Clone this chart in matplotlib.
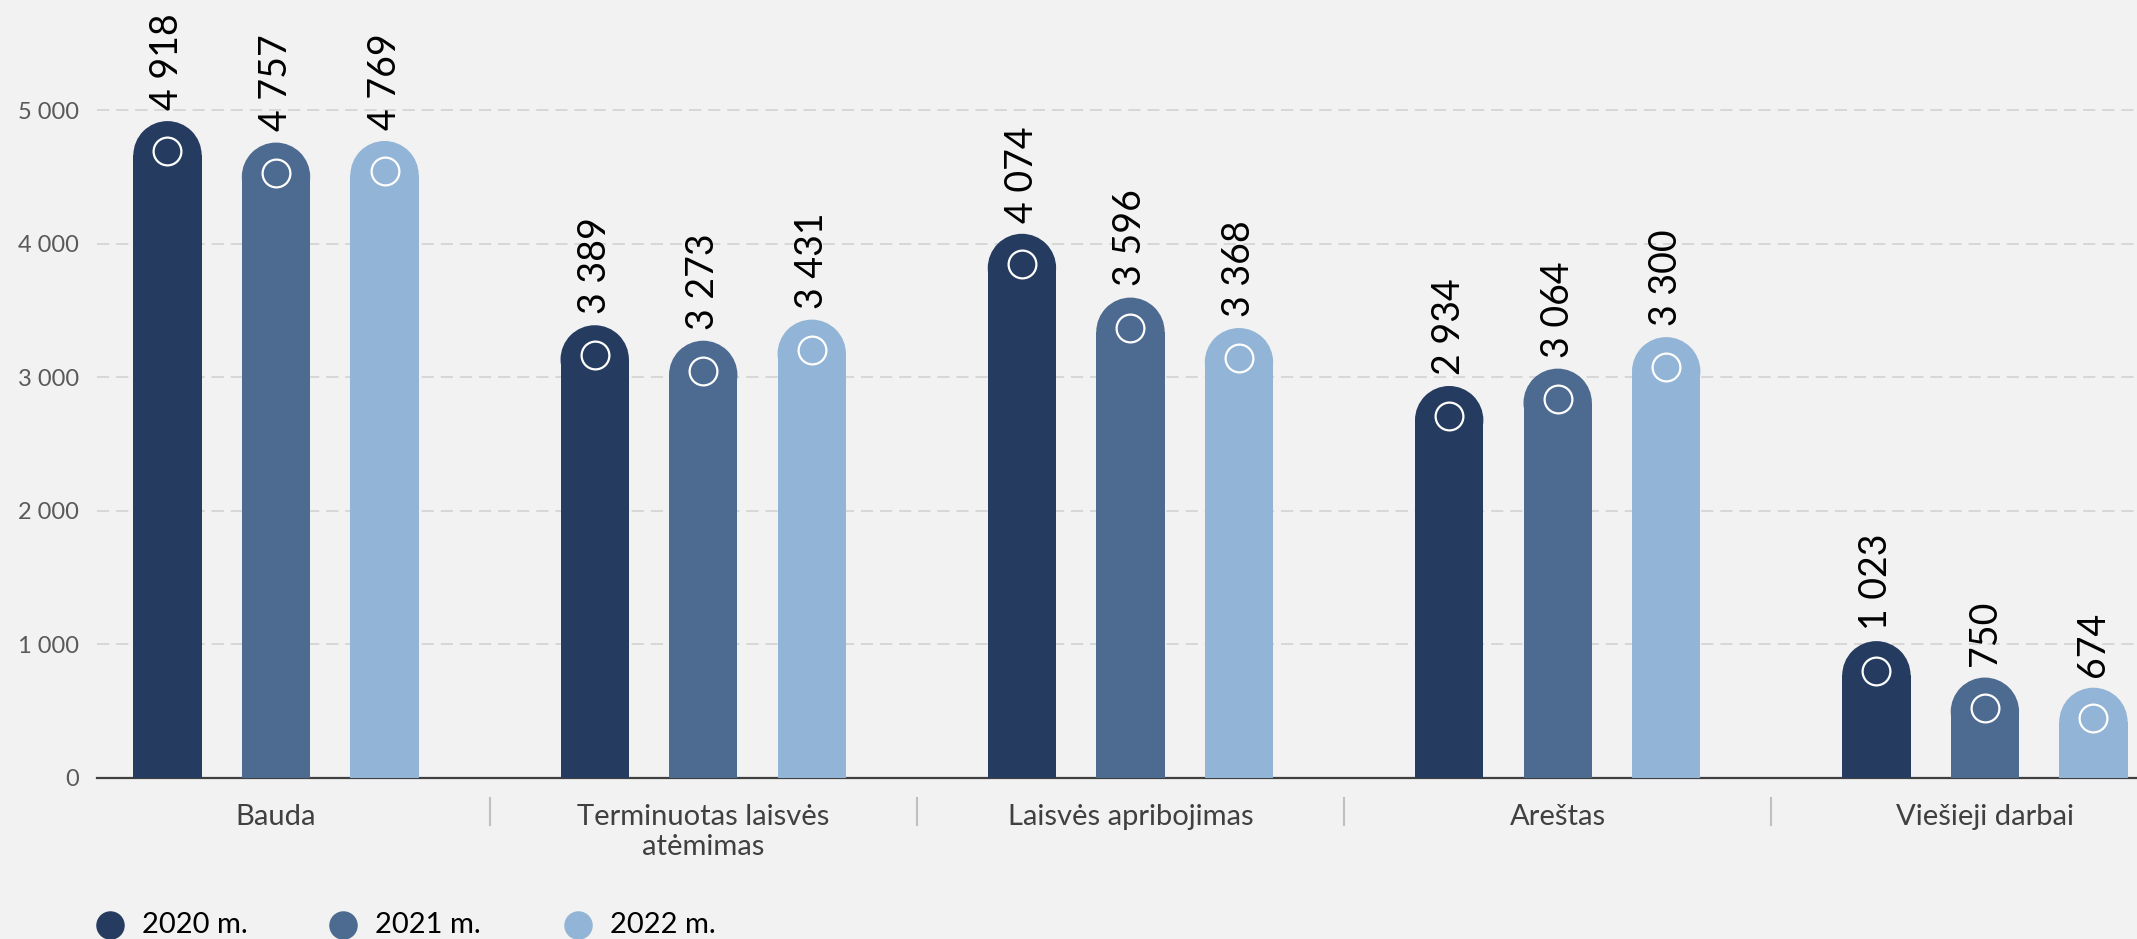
import matplotlib
matplotlib.use("Agg")
import matplotlib.pyplot as plt
import matplotlib.transforms as mtransforms
from matplotlib.patches import Rectangle, Ellipse
from matplotlib.lines import Line2D
from matplotlib.ticker import FuncFormatter

plt.rcParams['font.family'] = ['Lato', 'DejaVu Sans']

categories = ["Bauda", "Terminuotas laisvės\natėmimas", "Laisvės apribojimas",
              "Areštas", "Viešieji darbai"]
years = ["2020 m.", "2021 m.", "2022 m."]
y2020 = [4918, 3389, 4074, 2934, 1023]
y2021 = [4757, 3273, 3596, 3064, 750]
y2022 = [4769, 3431, 3368, 3300, 674]
series = [y2020, y2021, y2022]
colors = ["#253c60", "#4d6a90", "#92b4d6"]
bg = "#f2f2f2"


def fmt(v, pos=None):
    return f"{int(v):,}".replace(",", " ")


W, H, DPI = 2137, 939, 100
fig = plt.figure(figsize=(W / DPI, H / DPI), dpi=DPI, facecolor=bg)
left_px, bottom_px = 97, 161.3
ax = fig.add_axes([left_px / W, bottom_px / H, 1 - left_px / W, 1 - bottom_px / H])
ax.set_facecolor(bg)

xlim = (-0.419, 4.356)
ylim = (0, 5825)
ax.set_xlim(*xlim)
ax.set_ylim(*ylim)

# pixel scale so the rounded caps stay circular
px_x = (W - left_px) / (xlim[1] - xlim[0])
px_y = (H - bottom_px) / (ylim[1] - ylim[0])

bar_w = 0.16
offset = 0.254
ry = (bar_w * px_x / 2) / px_y

for j, vals in enumerate(series):
    for i, v in enumerate(vals):
        x = i + (j - 1) * offset
        ax.add_patch(Rectangle((x - bar_w / 2, 0), bar_w, v - ry,
                               facecolor=colors[j], edgecolor='none', zorder=3))
        ax.add_patch(Ellipse((x, v - ry), bar_w, 2 * ry,
                             facecolor=colors[j], edgecolor='none', zorder=3))
        ax.plot([x], [v - 30 / px_y], 'o', ms=20, mfc='none', mec='white',
                mew=1.6, zorder=4)
        ax.annotate(fmt(v), (x, v), xytext=(0, 8), textcoords='offset points',
                    rotation=90, ha='center', va='bottom', fontsize=27,
                    color='black', zorder=5)

ax.set_yticks(range(0, 6000, 1000))
ax.yaxis.set_major_formatter(FuncFormatter(fmt))
ax.tick_params(axis='y', length=0, pad=13, labelsize=17, labelcolor='#595959')
ax.yaxis.grid(True, color='#d0d0d0', linestyle=(0, (8, 4.5)), linewidth=1.1, zorder=0)
ax.set_axisbelow(True)

ax.set_xticks(range(len(categories)))
ax.set_xticklabels(categories, linespacing=1.2)
ax.tick_params(axis='x', length=0, pad=19, labelsize=21, labelcolor='#404040')

for s in ['top', 'right', 'left']:
    ax.spines[s].set_visible(False)
ax.spines['bottom'].set_color('#404040')
ax.spines['bottom'].set_linewidth(1.6)

# group separators below the axis
trans = mtransforms.blended_transform_factory(ax.transData, ax.transAxes)
for k in range(len(categories) - 1):
    ax.plot([k + 0.5, k + 0.5], [-0.026, -0.061], transform=trans,
            color='#c0c0c0', lw=1.5, clip_on=False)

# legend
leg_x = [110, 343, 578]
leg_y = 925
for j, lab in enumerate(years):
    fig.add_artist(Line2D([leg_x[j] / W], [1 - leg_y / H], transform=fig.transFigure,
                          marker='o', ms=19.5, color=colors[j], linestyle='none'))
    fig.text((leg_x[j] + 32) / W, 1 - leg_y / H, lab, ha='left', va='center',
             fontsize=21, color='black')

fig.savefig("out.png", dpi=DPI, facecolor=bg)
